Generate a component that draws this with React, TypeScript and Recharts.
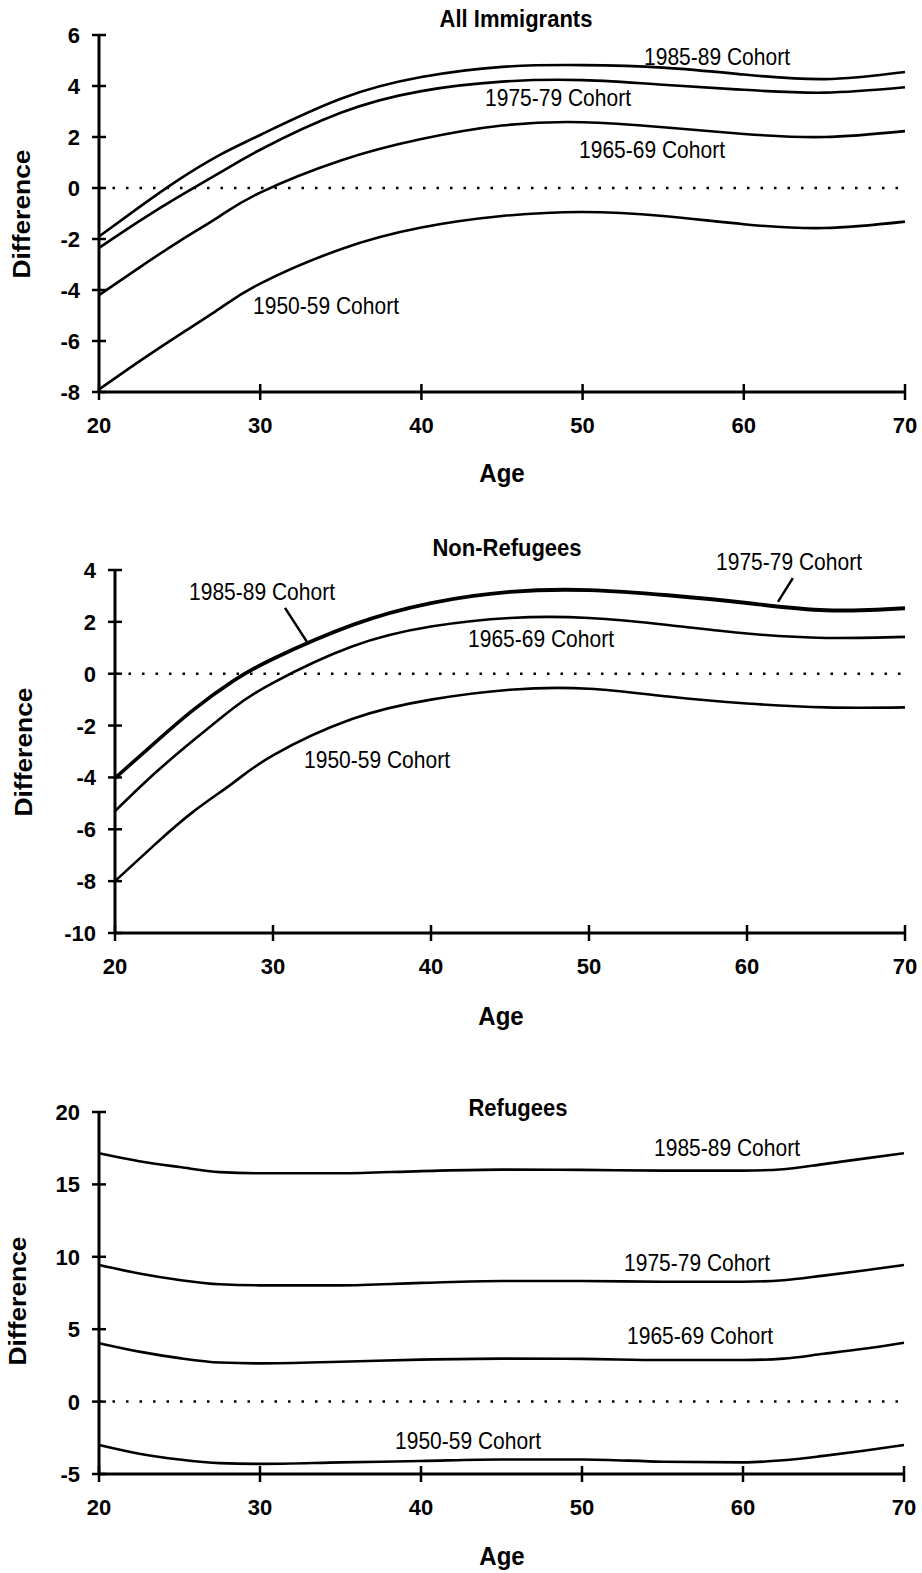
import { Line, LineChart, ReferenceLine, XAxis, YAxis } from "recharts";

const FONT = '"Liberation Sans", Arial, Helvetica, sans-serif';
const TICK_SIZE = 7;
const TICK_MARGIN = 12;

const AGES = [20, 22.5, 25, 27.5, 30, 35, 40, 45, 50, 55, 60, 65, 70];
const AGES_REF = [20, 22.5, 25, 27.5, 30, 35, 40, 45, 50, 55, 60, 62.5, 65, 67.5, 70];
const X_TICKS = [20, 30, 40, 50, 60, 70];

// All Immigrants
const ALL_1985 = [-1.9, -0.75, 0.35, 1.3, 2.08, 3.5, 4.35, 4.75, 4.82, 4.72, 4.45, 4.27, 4.55];
const ALL_1975 = [-2.35, -1.3, -0.32, 0.6, 1.5, 2.95, 3.8, 4.17, 4.23, 4.05, 3.85, 3.74, 3.95];
const ALL_1965 = [-4.2, -3.12, -2.08, -1.1, -0.18, 1.08, 1.92, 2.45, 2.58, 2.38, 2.12, 2.0, 2.23];
const ALL_1950 = [-7.9, -6.8, -5.75, -4.72, -3.75, -2.4, -1.55, -1.1, -0.94, -1.1, -1.42, -1.57, -1.32];
const ALL_TICKS = [-8, -6, -4, -2, 0, 2, 4, 6];

// Non-Refugees
const NON_1985 = [-4.0, -2.65, -1.35, -0.25, 0.6, 1.9, 2.75, 3.18, 3.25, 3.05, 2.75, 2.47, 2.55];
const NON_1975 = [-4.05, -2.7, -1.4, -0.3, 0.55, 1.85, 2.7, 3.13, 3.2, 3.0, 2.7, 2.42, 2.5];
const NON_1965 = [-5.3, -3.85, -2.55, -1.32, -0.35, 1.05, 1.82, 2.15, 2.15, 1.88, 1.55, 1.38, 1.42];
const NON_1950 = [-8.0, -6.6, -5.3, -4.2, -3.15, -1.75, -1.0, -0.62, -0.58, -0.88, -1.15, -1.3, -1.3];
const NON_TICKS = [-10, -8, -6, -4, -2, 0, 2, 4];

// Refugees
const REF_1985 = [17.15, 16.6, 16.2, 15.85, 15.77, 15.77, 15.92, 16.02, 16.0, 15.95, 15.95, 16.05, 16.4, 16.78, 17.15];
const REF_1975 = [9.43, 8.85, 8.4, 8.1, 8.03, 8.03, 8.2, 8.33, 8.33, 8.28, 8.28, 8.38, 8.7, 9.05, 9.43];
const REF_1965 = [4.03, 3.45, 3.0, 2.7, 2.64, 2.75, 2.9, 2.97, 2.95, 2.87, 2.87, 2.97, 3.3, 3.65, 4.07];
const REF_1950 = [-3.0, -3.6, -4.0, -4.25, -4.3, -4.2, -4.1, -4.0, -4.0, -4.15, -4.2, -4.05, -3.75, -3.4, -3.0];
const REF_TICKS = [-5, 0, 5, 10, 15, 20];

const SERIES = ["c1985", "c1975", "c1965", "c1950"];

function rows(ages: number[], lists: number[][]) {
  return ages.map((age, i) => {
    const row: Record<string, number> = { age };
    SERIES.forEach((key, k) => (row[key] = lists[k][i]));
    return row;
  });
}

function YTick(props: any) {
  const { x, y, payload } = props;
  const ax = x + TICK_SIZE + TICK_MARGIN;
  return (
    <g>
      <line x1={ax - 7} x2={ax + 7} y1={y} y2={y} stroke="#000" strokeWidth={2.5} />
      <text x={x} y={y} dy={8} textAnchor="end" fontFamily={FONT} fontWeight="bold" fontSize={22} fill="#000">
        {payload.value}
      </text>
    </g>
  );
}

function XTick(props: any) {
  const { x, y, payload } = props;
  const ay = y - TICK_SIZE - TICK_MARGIN;
  return (
    <g>
      <line x1={x} x2={x} y1={ay - 8} y2={ay + 8} stroke="#000" strokeWidth={2.5} />
      <text x={x} y={ay + 41} textAnchor="middle" fontFamily={FONT} fontWeight="bold" fontSize={22} fill="#000">
        {payload.value}
      </text>
    </g>
  );
}

function Txt({ x, y, children, bold, size }: { x: number; y: number; children: any; bold?: boolean; size: number }) {
  return (
    <div
      style={{
        position: "absolute",
        left: x,
        top: y,
        transform: "translate(-50%, -50%) scaleY(1.1)",
        fontFamily: FONT,
        fontWeight: bold ? "bold" : "normal",
        fontSize: size,
        whiteSpace: "nowrap",
        lineHeight: 1,
        color: "#000"
      }}
    >
      {children}
    </div>
  );
}

function YLabel({ x, y }: { x: number; y: number }) {
  return (
    <div
      style={{
        position: "absolute",
        left: x,
        top: y,
        transform: "translate(-50%, -50%) rotate(-90deg) scaleX(1.1)",
        fontFamily: FONT,
        fontWeight: "bold",
        fontSize: 24,
        whiteSpace: "nowrap",
        lineHeight: 1
      }}
    >
      Difference
    </div>
  );
}

function Panel({
  top,
  height,
  data,
  domain,
  ticks,
  left,
  margin,
  curve,
  children
}: {
  top: number;
  height: number;
  data: Record<string, number>[];
  domain: [number, number];
  ticks: number[];
  left: number;
  margin: { top: number; right: number; bottom: number };
  curve: "natural" | "monotone";
  children?: any;
}) {
  return (
    <div style={{ position: "absolute", left: 0, top }}>
      <LineChart width={922} height={height} data={data} margin={{ top: margin.top, right: margin.right, bottom: margin.bottom, left: 0 }}>
        <XAxis
          type="number"
          dataKey="age"
          domain={[20, 70]}
          ticks={X_TICKS}
          height={30}
          axisLine={{ stroke: "#000", strokeWidth: 3 }}
          tickLine={false}
          tickSize={TICK_SIZE}
          tickMargin={TICK_MARGIN}
          tick={<XTick />}
          interval={0}
        />
        <YAxis
          type="number"
          domain={domain}
          ticks={ticks}
          width={left}
          axisLine={{ stroke: "#000", strokeWidth: 3 }}
          tickLine={false}
          tickSize={TICK_SIZE}
          tickMargin={TICK_MARGIN}
          tick={<YTick />}
          interval={0}
          allowDataOverflow
        />
        <ReferenceLine y={0} stroke="#000" strokeWidth={2.5} strokeDasharray="2.5 11" />
        {SERIES.map((key) => (
          <Line
            key={key}
            type={curve}
            dataKey={key}
            stroke="#000"
            strokeWidth={2.6}
            dot={false}
            activeDot={false}
            isAnimationActive={false}
          />
        ))}
        {children}
      </LineChart>
    </div>
  );
}

export default function App() {
  const all = rows(AGES, [ALL_1985, ALL_1975, ALL_1965, ALL_1950]);
  const non = rows(AGES, [NON_1985, NON_1975, NON_1965, NON_1950]);
  const ref = rows(AGES_REF, [REF_1985, REF_1975, REF_1965, REF_1950]);

  return (
    <div style={{ position: "absolute", left: 0, top: 0, width: 922, height: 1573, background: "#fff", overflow: "hidden" }}>
      <Panel top={0} height={500} data={all} domain={[-8, 6]} ticks={ALL_TICKS} left={99} curve="natural" margin={{ top: 35, right: 17, bottom: 78 }} />
      <Panel top={500} height={560} data={non} domain={[-10, 4]} ticks={NON_TICKS} left={115} curve="natural" margin={{ top: 70, right: 17, bottom: 97 }}>
        <ReferenceLine
          segment={[
            { x: 30.76, y: 2.54 },
            { x: 32.15, y: 1.23 }
          ]}
          stroke="#000"
          strokeWidth={2.5}
        />
        <ReferenceLine
          segment={[
            { x: 62.9, y: 3.69 },
            { x: 61.96, y: 2.77 }
          ]}
          stroke="#000"
          strokeWidth={2.5}
        />
      </Panel>
      <Panel top={1060} height={513} data={ref} domain={[-5, 20]} ticks={REF_TICKS} left={99} curve="monotone" margin={{ top: 52, right: 18, bottom: 69 }} />

      <Txt x={516} y={19} bold size={22}>All Immigrants</Txt>
      <Txt x={507} y={548} bold size={22}>Non-Refugees</Txt>
      <Txt x={518} y={1108} bold size={22}>Refugees</Txt>

      <Txt x={502} y={473} bold size={24}>Age</Txt>
      <Txt x={501} y={1016} bold size={24}>Age</Txt>
      <Txt x={502} y={1556} bold size={24}>Age</Txt>

      <YLabel x={22} y={214} />
      <YLabel x={24} y={752} />
      <YLabel x={18} y={1301} />

      <Txt x={717} y={57} size={21}>1985-89 Cohort</Txt>
      <Txt x={558} y={98} size={21}>1975-79 Cohort</Txt>
      <Txt x={652} y={150} size={21}>1965-69 Cohort</Txt>
      <Txt x={326} y={306} size={21}>1950-59 Cohort</Txt>

      <Txt x={262} y={592} size={21}>1985-89 Cohort</Txt>
      <Txt x={789} y={562} size={21}>1975-79 Cohort</Txt>
      <Txt x={541} y={639} size={21}>1965-69 Cohort</Txt>
      <Txt x={377} y={760} size={21}>1950-59 Cohort</Txt>

      <Txt x={727} y={1148} size={21}>1985-89 Cohort</Txt>
      <Txt x={697} y={1263} size={21}>1975-79 Cohort</Txt>
      <Txt x={700} y={1336} size={21}>1965-69 Cohort</Txt>
      <Txt x={468} y={1441} size={21}>1950-59 Cohort</Txt>
    </div>
  );
}
